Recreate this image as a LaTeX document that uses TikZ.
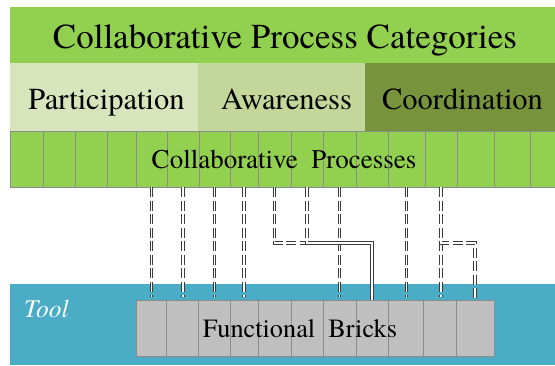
\documentclass[tikz,border=0pt]{standalone}
\usepackage{fontspec}
\setmainfont{texgyretermes}[Extension=.otf, UprightFont=*-regular, ItalicFont=*-italic, BoldFont=*-bold]
\usetikzlibrary{positioning}

\definecolor{catgreen}{HTML}{92D050}
\definecolor{partgreen}{HTML}{D8E4BC}
\definecolor{awaregreen}{HTML}{C4D79B}
\definecolor{coordgreen}{HTML}{77933C}
\definecolor{toolblue}{HTML}{4BACC6}
\definecolor{brickgray}{HTML}{BFBFBF}
\definecolor{edgegray}{HTML}{8C8C8C}
\definecolor{linkgray}{HTML}{3C3C3C}

\begin{document}
\begin{tikzpicture}
  [x = 1pt, y = -1pt,
   band/.style = {draw=none, inner sep=0pt, outer sep=0pt},
   pcell/.style = {draw=edgegray, fill=catgreen, line width=0.8pt, inner sep=0pt, outer sep=0pt, minimum height=56pt},
   bcell/.style = {draw=edgegray, fill=brickgray, line width=0.8pt, inner sep=0pt, outer sep=0pt, minimum height=56pt},
   link/.style = {draw=linkgray, line width=1pt, double=white, double distance=1.5pt, dash pattern=on 10pt off 3.5pt}]
    \useasboundingbox (0,0) rectangle (555,365);

    % categories
    \node[band, fill=catgreen, minimum width=545pt, minimum height=56pt] (cat) at (282.5,35) {};
    \node[anchor=base, font=\fontsize{35}{40}\selectfont] (catlbl) at (285,48) {Collaborative Process Categories};
    \node[band, fill=partgreen, minimum width=188pt, minimum height=68pt] (part) at (104,97) {};
    \node[band, fill=awaregreen, minimum width=167pt, minimum height=68pt] (aware) at (281.5,97) {};
    \node[band, fill=coordgreen, minimum width=190pt, minimum height=68pt] (coord) at (460,97) {};
    \node[anchor=base, font=\fontsize{30.5}{35}\selectfont] (partlbl) at (106.5,109) {Participation};
    \node[anchor=base, font=\fontsize{30.5}{35}\selectfont] (awarelbl) at (286.5,109) {Awareness};
    \node[anchor=base, font=\fontsize{30.5}{35}\selectfont] (coordlbl) at (462.5,109) {Coordination};

    % processes
    \foreach \i/\l/\r in {1/10/43, 2/43/75, 3/75/107, 4/107/136, 5/136/167, 6/167/199,
        7/199/230, 8/230/258, 9/258/291, 10/291/323, 11/323/356, 12/356/388,
        13/388/425, 14/425/457, 15/457/494, 16/494/530, 17/530/562}
      \node[pcell, minimum width={(\r-\l)*1pt}] (p\i) at ({(\l+\r)/2},159) {};
    \node[anchor=base, font=\fontsize{27}{32}\selectfont] (proclbl) at (284,168) {Collaborative\hspace{0.5em}Processes};

    % tool
    \node[band, fill=toolblue, minimum width=545pt, minimum height=81pt] (tool) at (282.5,324.5) {};
    \node[anchor=base west, inner sep=0pt, text=white, font=\fontsize{25.5}{30}\selectfont\itshape] (toollbl) at (24,317) {Tool};
    \foreach \i/\l/\r in {1/136/166, 2/166/198, 3/198/230, 4/230/258, 5/258/291, 6/291/323,
        7/323/356, 8/356/388, 9/388/423, 10/423/456, 11/456/494}
      \node[bcell, minimum width={(\r-\l)*1pt}] (b\i) at ({(\l+\r)/2},328) {};
    \node[anchor=base, font=\fontsize{26.3}{30}\selectfont] (bricklbl) at (300,337) {Functional\hspace{0.5em}Bricks};

    % links
    \coordinate (knee1) at (b8.north |- 0,243);
    \coordinate (knee2) at (b11.north |- 0,243);
    \foreach \p/\b in {5/1, 6/2, 7/3, 8/4, 11/7, 13/9, 14/10}
      \draw[link, shorten >=3pt] (p\p.south) -- (p\p.south |- b\b.north);
    \draw[link] (p9.south) |- (knee1) -- (b8.north);
    \draw[link] (p10.south) |- (knee1) -- (b8.north);
    \draw[link, shorten >=1pt] (p14.south) |- (knee2) -- (b11.north);
\end{tikzpicture}
\end{document}
